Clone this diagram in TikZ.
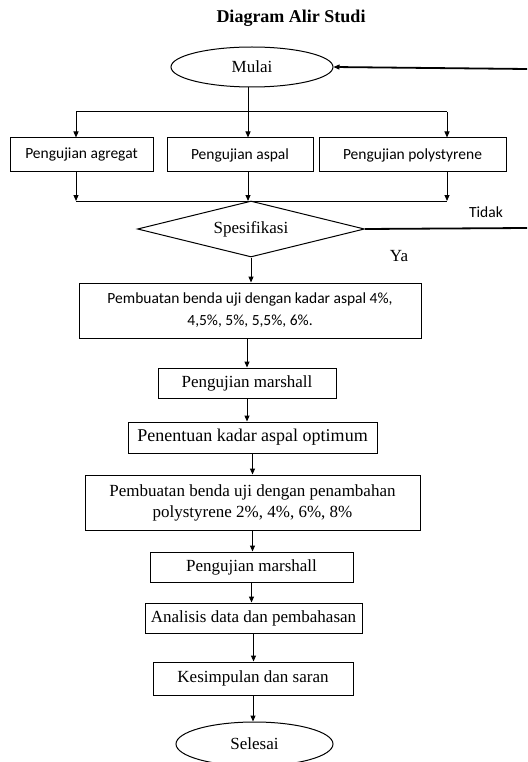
\documentclass[tikz,border=0pt]{standalone}
\usepackage{fontspec}
\setmainfont{Liberation Serif}
\newfontfamily\calibri{Carlito}
\usetikzlibrary{shapes.geometric,arrows.meta}

\begin{document}
\begin{tikzpicture}[x=1pt, y=-1pt, line width=1pt,
    every node/.style={font=\fontsize{17}{21}\selectfont},
    kotak/.style={draw, rectangle, inner sep=0pt, align=center},
    sans/.style={font=\calibri\fontsize{15.5}{22}\selectfont},
    terminal/.style={draw, ellipse, inner sep=0pt},
    panah/.style={-{Triangle[length=6pt,width=5pt]}}]
    \useasboundingbox (0,0) rectangle (527,762);
    \node[font=\bfseries\fontsize{18}{21}\selectfont] (judul) at (291,18) {Diagram Alir Studi};
    \node[terminal, minimum width=162pt, minimum height=40pt] (mulai) at (252,67) {Mulai};
    \node[kotak, sans, minimum width=143pt, minimum height=34pt] (agregat) at (81.5,155) {Pengujian agregat};
    \node[kotak, sans, minimum width=146pt, minimum height=34pt] (aspal) at (240,155) {Pengujian aspal};
    \node[kotak, sans, minimum width=187pt, minimum height=34pt] (polys) at (412.5,155) {Pengujian polystyrene};
    \node[draw, diamond, aspect=4, inner sep=0pt, minimum width=227pt, minimum height=56pt] (spek) at (251,229) {Spesifikasi};
    \node[sans] (tidak) at (486,212) {Tidak};
    \node (ya) at (399,256) {Ya};
    \node[kotak, sans, minimum width=342pt, minimum height=55pt] (benda) at (250,310.5) {Pembuatan benda uji dengan kadar aspal 4\%,\\ 4,5\%, 5\%, 5,5\%, 6\%.};
    \node[kotak, minimum width=178pt, minimum height=30pt] (marshall1) at (247,383) {Pengujian marshall};
    \node[kotak, minimum width=249pt, minimum height=31pt, font=\fontsize{18}{21}\selectfont] (kao) at (252.5,437.5) {Penentuan kadar aspal optimum};
    \node[kotak, minimum width=335pt, minimum height=55pt] (tambah) at (252.5,502.5) {Pembuatan benda uji dengan penambahan\\ polystyrene 2\%, 4\%, 6\%, 8\%};
    \node[kotak, minimum width=203pt, minimum height=30pt] (marshall2) at (251.5,567) {Pengujian marshall};
    \node[kotak, minimum width=217pt, minimum height=30pt] (analisis) at (253.5,618) {Analisis data dan pembahasan};
    \node[kotak, minimum width=200pt, minimum height=33pt] (simpul) at (253,678.5) {Kesimpulan dan saran};
    \node[terminal, minimum width=157pt, minimum height=44pt] (selesai) at (254.5,744) {Selesai};
    % titik bantu
    \coordinate (atas) at (248,112);
    \coordinate (atasL) at (76,112);
    \coordinate (atasR) at (447,112);
    \coordinate (bawah) at (248,201);
    \coordinate (bawahL) at (76,201);
    \coordinate (bawahR) at (447,201);
    \coordinate (kanan1) at (527,228);
    \coordinate (kanan2) at (527,69);
    % cabang pengujian
    \draw (mulai.south -| atas) -- (atas);
    \draw (atasL) -- (atasR);
    \draw[panah] (atasL) -- (agregat.north -| atasL);
    \draw[panah] (atas) -- (aspal.north -| atas);
    \draw[panah] (atasR) -- (polys.north -| atasR);
    \draw[panah] (agregat.south -| bawahL) -- (bawahL);
    \draw[panah] (aspal.south -| bawah) -- (bawah);
    \draw[panah] (polys.south -| bawahR) -- (bawahR);
    \draw (bawahL) -- (bawahR);
    % ulang
    \draw[line width=1.8pt] (spek.east) -- (kanan1);
    \draw[-{Triangle[length=6pt,width=5pt,line width=1pt]}, line width=1.8pt] (kanan2) -- (mulai.east);
    % alur utama
    \draw[panah] (spek.south) -- (spek.south |- benda.north);
    \draw[panah] (benda.south -| marshall1) -- (marshall1.north);
    \draw[panah] (marshall1.south) -- (marshall1.south |- kao.north);
    \draw[panah] (kao.south) -- (kao.south |- tambah.north);
    \draw[panah] (tambah.south) -- (tambah.south |- marshall2.north);
    \draw[panah] (marshall2.south) -- (marshall2.south |- analisis.north);
    \draw[panah] (analisis.south) -- (analisis.south |- simpul.north);
    \draw[panah] (simpul.south) -- (simpul.south |- selesai.north);
\end{tikzpicture}
\end{document}
